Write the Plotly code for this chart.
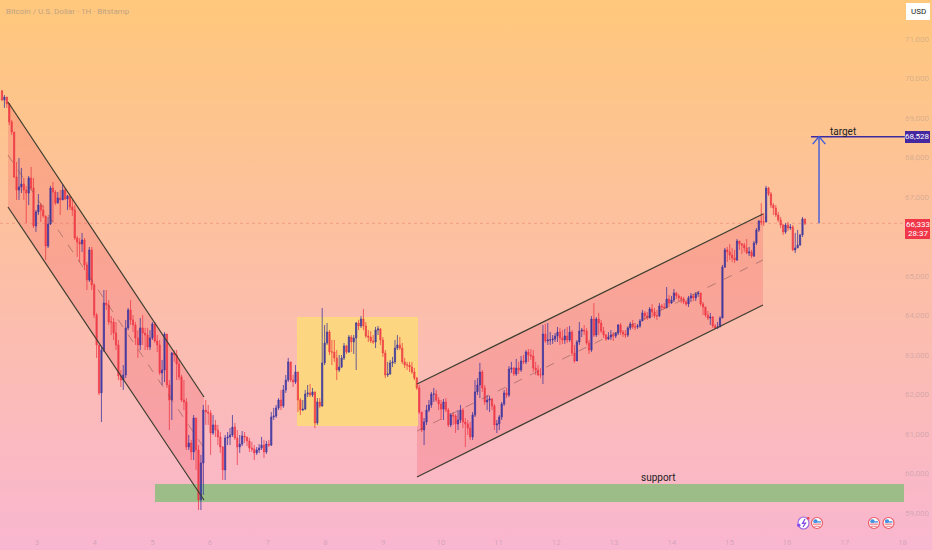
import plotly.graph_objects as go
from urllib.parse import quote

# ---------- values ----------
first_open = 69685
closes = [
69455,69530,69355,68900,68645,67505,67175,67255,67330,67175,
67100,67480,67225,66265,66620,66795,66670,66520,65760,66315,
67225,67125,66845,66975,66925,67175,66950,67025,66745,66670,
65960,65860,65810,65910,65280,64900,65660,64770,64010,63255,
62040,63125,64315,64265,63835,63835,63555,63255,62470,62365,
62495,63685,64140,63885,63760,63430,63255,63685,63555,63505,
63200,63430,63785,63355,63255,62545,62620,63530,62240,61860,
63050,63000,62770,62445,61860,61810,60670,60770,60545,61405,
60595,59330,60265,61605,61555,61530,61025,61230,61100,60925,
60670,60090,60900,60925,60975,61175,60900,60670,60745,60950,
60925,60825,60645,60620,60520,60595,60645,60720,60545,60745,
60720,61430,61455,61660,61860,61710,62115,62365,62825,62365,
62315,62570,61860,61605,61630,62010,62040,61985,62065,61280,
61810,61710,62800,63305,63580,63075,63075,62925,62620,62695,
62925,63230,63075,63455,63330,63430,63810,63735,63910,63735,
63480,63455,63355,63330,63630,63660,63380,63050,62495,62520,
62800,62825,63175,63255,63175,62825,62745,62745,62695,62570,
62415,62165,61555,61100,61305,61605,61735,62010,62010,61860,
61760,61630,61810,61605,61230,61480,61455,61255,61355,61605,
61305,61255,61150,60925,61480,62065,62240,62570,62165,61810,
61860,61885,61710,61230,61255,61430,61760,62040,61985,62645,
62670,62520,62670,62620,62850,62825,63075,63000,62975,62670,
62620,62495,62495,63530,63355,63380,63380,63405,63480,63580,
63430,63380,63480,63380,63580,63050,62850,63330,63605,63630,
63605,63305,63125,63910,63505,63910,63810,63605,63505,63405,
63455,63505,63480,63555,63760,63580,63530,63505,63685,63785,
63710,63710,63735,63860,64065,63990,63935,64165,64090,63990,
63990,64240,64215,64190,64415,64315,64390,64570,64495,64445,
64415,64340,64290,64445,64495,64445,64545,64570,64290,64215,
64010,63935,63960,63735,63685,63710,63935,65225,65660,65610,
65530,65455,65405,65885,65810,65785,65710,65580,65610,65505,
65835,66165,66390,66365,66365,67225,67075,66795,66720,66545,
66420,66290,66115,66290,66215,66240,65660,65710,65785,66040,
66445,66333]
highs = [
69710,69580,69530,69380,68950,68645,67885,67985,67735,67480,
67280,67530,67760,67480,66670,67075,66845,66795,66520,66495,
67280,67380,67175,67125,67175,67330,67225,67050,67025,66925,
66795,66010,65960,66090,65960,65355,65735,65735,64820,64065,
63255,63200,64645,64645,64390,63985,63935,63835,63380,62620,
62745,63885,64190,64390,64010,63835,63630,63935,64010,63685,
63685,63630,63835,63835,63505,63380,62875,63580,63505,62365,
63075,63125,63125,62875,62495,62365,61910,60975,60850,61480,
61405,60720,60470,61735,61860,61735,61605,61480,61355,61230,
61050,60695,60975,61050,61150,61480,61280,61100,60975,61075,
61050,60925,60900,60800,60720,60670,60745,60925,60850,60825,
60850,61555,61660,61735,61910,62115,62240,62495,62925,62825,
62495,62745,62570,61910,61860,62115,62240,62265,62165,62040,
61910,61910,64190,63760,63810,63630,63380,63380,63125,63000,
63000,63305,63255,63505,63505,63505,63835,63885,63985,64165,
63835,63630,63605,63505,63710,63735,63685,63455,63125,62825,
62875,62950,63380,63505,63455,63305,62925,62825,62825,62825,
62670,62445,62240,61555,61405,61735,61860,62065,62165,62115,
61935,61860,61885,61910,61660,61530,61555,61505,61605,61735,
61660,61405,61355,61305,61555,62365,62415,62800,62620,62240,
61985,61960,61910,61760,61355,61480,61810,62115,62165,62720,
62825,62695,62900,62825,62975,63000,63125,63150,63150,63125,
62825,62745,62670,63760,63785,63810,63580,63505,63555,63710,
63685,63630,63660,63710,63735,63630,63255,63380,63835,63685,
63760,63685,63380,63985,64315,63960,64065,63885,63710,63530,
63580,63630,63580,63580,63785,63810,63630,63630,63710,63835,
63885,63810,63785,63910,64140,64115,64090,64215,64290,64190,
64140,64315,64290,64315,64720,64520,64495,64670,64595,64545,
64495,64470,64390,64495,64570,64545,64595,64620,64570,64340,
64215,64115,64065,63985,63785,63835,63985,65280,65710,65735,
65810,65710,65660,65935,65885,65835,65835,65935,65735,65660,
65885,66215,66420,66845,66595,67280,67255,67125,66845,66795,
66620,66495,66315,66340,66365,66315,66290,66090,66165,66065,
66495,66445]
lows = [
69430,69255,69255,68820,68570,67480,66925,66925,67100,66925,
66340,66795,67175,66215,66115,66545,66365,66470,65405,65710,
66290,66365,66795,66845,66545,66925,66925,66670,66670,66520,
65910,65480,65355,65610,65150,64645,64850,64645,63935,62925,
61985,61305,63075,64140,63760,63505,63380,63125,62365,62190,
62115,62415,63630,63760,63580,63255,62925,63125,63255,63125,
63125,63125,63380,63305,63075,62495,62240,62315,62165,61100,
61355,62825,62365,62365,61810,61605,60595,60595,60340,60340,
60090,59075,59075,59455,61230,61230,60470,60975,60925,60720,
60520,59835,59835,60720,60720,60925,60850,60215,60520,60695,
60775,60695,60545,60545,60340,60470,60520,60595,60390,60495,
60670,60695,61355,61405,61605,61605,61660,62040,62315,62315,
62190,62265,61555,61480,61580,61605,61935,61935,61935,61150,
61230,61660,61685,62745,63255,63000,62745,62825,62365,62570,
62670,62875,63025,63050,63075,63025,62620,63630,63685,63630,
63430,63330,63305,63280,63175,63505,63255,62950,62415,62445,
62495,62695,62770,63125,63125,62770,62670,62620,62570,62520,
62365,62115,61505,61050,60720,61230,61555,61660,61810,61810,
61605,61355,61355,61555,61175,61175,61230,61025,61100,61280,
61150,60670,60975,60850,60850,61430,61985,61910,62065,61735,
61605,61555,61605,61100,61025,61100,61355,61710,61910,61935,
62545,62470,62470,62520,62570,62770,62770,62825,62875,62570,
62495,62470,62415,62265,63305,63255,63255,63280,63330,63330,
63255,63280,63280,63305,63330,62975,62800,62875,63255,63455,
63505,63255,63025,63075,63455,63455,63505,63555,63430,63355,
63380,63380,63355,63430,63505,63505,63455,63430,63455,63630,
63660,63630,63660,63685,63860,63885,63885,63935,63960,63935,
63885,63960,64140,64165,64190,64215,64290,64340,64415,64365,
64315,64290,64240,64215,64340,64365,64365,64470,64240,64010,
63960,63885,63760,63685,63660,63660,63710,63935,65205,65355,
65405,65355,65330,65380,65660,65555,65610,65555,65505,65455,
65480,65785,66115,66290,66265,66520,67025,66720,66545,66495,
66365,66215,66035,66065,66140,66165,65635,65580,65710,65760,
65987,66290]
opens = [first_open] + closes[:-1]

price_ticks = [59000,60000,61000,62000,63000,64000,65000,67000,68000,69000,70000,71000]
day_ticks = [3,4,5,6,7,8,9,10,11,12,13,14,15,16,17,18]

current_price = 66333
countdown = "28:37"
target_price = 68528

# channels: day and price pairs
down_days = [2.497, 5.894]
down_top = [69405, 61937]
down_mid = [68063, 60646]
down_bot = [66747, 59329]
up_days = [9.586, 15.582]
up_top = [62266, 66570]
up_mid = [61076, 65405]
up_bot = [59911, 64266]
range_days = [7.506, 9.603]
range_prices = [61203, 63962]
support_days = [5.045, 18.026]
support_prices = [59278, 59734]
target_days = [16.414, 18.04]
arrow_day = 16.553
arrow_wing = 0.11
arrow_drop = 190
first_bar_day = 2.3934
bar_step = 0.04204

X_RANGE = [2.3588, 18.511]
Y_RANGE = [58063, 71987]
W, H = 932, 550
FONT = "Roboto, 'Open Sans', sans-serif"
UP, DOWN = "#2b2a9e", "#ee2f3f"

days = [first_bar_day + i * bar_step for i in range(len(closes))]
fig = go.Figure()

def line(xs, ys, color, width=1.5, dash="solid"):
    fig.add_trace(go.Scatter(x=xs, y=ys, mode="lines", hoverinfo="skip",
                             line=dict(color=color, width=width, dash=dash)))

def band(xs, top, bot, color):
    path = f"M{xs[0]},{top[0]} L{xs[1]},{top[1]} L{xs[1]},{bot[1]} L{xs[0]},{bot[0]} Z"
    fig.add_shape(type="path", path=path, fillcolor=color, line_width=0, layer="below")

def box(xs, ys, color):
    fig.add_shape(type="rect", x0=xs[0], x1=xs[1], y0=ys[0], y1=ys[1],
                  fillcolor=color, line_width=0, layer="below")

band(down_days, down_top, down_bot, "rgba(240,60,80,0.2)")
band(up_days, up_top, up_bot, "rgba(240,60,80,0.2)")
box(range_days, range_prices, "#fdd681")
box(support_days, support_prices, "#9dbd88")
fig.add_shape(type="line", x0=X_RANGE[0], x1=target_days[1], y0=current_price, y1=current_price,
              line=dict(color="rgba(225,80,80,0.3)", width=1, dash="dot"), layer="below")

fig.add_trace(go.Candlestick(
    x=days, open=opens, high=highs, low=lows, close=closes, hoverinfo="skip",
    increasing=dict(line=dict(color=UP, width=0.8), fillcolor=UP),
    decreasing=dict(line=dict(color=DOWN, width=0.8), fillcolor=DOWN),
    whiskerwidth=0, opacity=0.88))

for top in (down_top, down_bot):
    line(down_days, top, "#3d3d30", 1.2)
for top in (up_top, up_bot):
    line(up_days, top, "#3d3d30", 1.2)
line(down_days, down_mid, "rgba(110,70,70,0.6)", 0.8, "dash")
line(up_days, up_mid, "rgba(110,70,70,0.6)", 0.8, "dash")
line(target_days, [target_price, target_price], "#3d2a9e", 1.5)
line([arrow_day, arrow_day], [current_price, target_price], "#3f5bd8", 1.4)
line([arrow_day - arrow_wing, arrow_day, arrow_day + arrow_wing],
     [target_price - arrow_drop, target_price, target_price - arrow_drop], "#3f5bd8", 1.4)

def px(x): return x / W
def py(y): return 1 - y / H

def text(x, y, s, color, size, xanchor="center"):
    fig.add_annotation(x=px(x), y=py(y), xref="paper", yref="paper", text=s, showarrow=False,
                       xanchor=xanchor, yanchor="middle", align="center",
                       font=dict(family=FONT, size=size, color=color))

def paper_rect(x0, y0, x1, y1, color, kind="rect", **kw):
    fig.add_shape(type=kind, xref="paper", yref="paper", x0=px(x0), x1=px(x1), y0=py(y0), y1=py(y1),
                  fillcolor=color, line=kw.get("line", dict(width=0)), layer="above")

text(843, 131, "target", "#222", 10)
text(658, 477, "support", "#222", 10)
text(4, 11, "Bitcoin / U.S. Dollar · 1H · Bitstamp", "rgba(120,120,135,0.5)", 8, "left")

paper_rect(906, 3, 930, 20, "#ffffff")
text(918, 11.5, "USD", "#222", 8)
paper_rect(905, 131, 930, 143, "#4527a0")
text(917.5, 137, f"{target_price:,}", "#ffffff", 8)
paper_rect(905, 219, 930, 239, "#f0374a")
text(917.5, 224.5, f"{current_price:,}", "#ffffff", 8)
text(917.5, 233.5, countdown, "#ffffff", 8)

# event markers along the bottom
def flag(cx, cy=523):
    r = 5.5
    paper_rect(cx - r, cy - r, cx + r, cy + r, "#ffffff", "circle", line=dict(color="#ee5a66", width=1.2))
    paper_rect(cx - 3.6, cy - 3.8, cx + 0.6, cy, "#3f8fe0", "circle")
    paper_rect(cx - 3.6, cy - 1.8, cx + 4, cy - 0.4, "#4a94e0")
    paper_rect(cx - 4, cy + 0.6, cx + 4, cy + 1.6, "#ee5a66")
    paper_rect(cx - 3, cy + 2.8, cx + 3, cy + 3.6, "#ee5a66")
for c in (817, 874, 888.5):
    flag(c)
paper_rect(798, 517, 809, 529, "#ffffff", "circle", line=dict(color="#a06be0", width=1.2))
fig.add_shape(type="path", xref="paper", yref="paper", layer="above", line=dict(color="#7c3fe0", width=1.2),
              path=f"M{px(805)},{py(519)} L{px(802.5)},{py(523.5)} L{px(805.5)},{py(523)} L{px(803)},{py(527)}")
paper_rect(797, 523.5, 800.5, 527, "#8a4fe8", "circle")
paper_rect(807, 517, 809.5, 519.5, "#ee3b4b", "circle")

grad = ("<svg xmlns='http://www.w3.org/2000/svg' width='10' height='550' preserveAspectRatio='none'>"
        "<defs><linearGradient id='g' x1='0' y1='0' x2='0' y2='1'>"
        "<stop offset='0' stop-color='#ffc87c'/><stop offset='1' stop-color='#f9b6d0'/>"
        "</linearGradient></defs><rect width='10' height='550' fill='url(#g)'/></svg>")
fig.add_layout_image(source="data:image/svg+xml," + quote(grad), xref="paper", yref="paper",
                     x=0, y=1, sizex=1, sizey=1, sizing="stretch", layer="below",
                     xanchor="left", yanchor="top")

tick_font = dict(family=FONT, size=8, color="rgba(120,120,135,0.3)")
fig.update_layout(
    width=W, height=H, margin=dict(l=0, r=0, t=0, b=0), showlegend=False,
    paper_bgcolor="#fbbfa8", plot_bgcolor="rgba(0,0,0,0)", dragmode=False,
    xaxis=dict(range=X_RANGE, tickmode="array", tickvals=day_ticks, ticktext=[str(d) for d in day_ticks],
               ticklabelposition="inside", showgrid=False, zeroline=False, showline=False,
               ticks="", tickfont=tick_font, rangeslider=dict(visible=False), fixedrange=True),
    yaxis=dict(range=Y_RANGE, side="right", tickmode="array", tickvals=price_ticks,
               ticktext=[f"{p:,}" for p in price_ticks], ticklabelposition="inside",
               showgrid=False, zeroline=False, showline=False, ticks="", tickfont=tick_font,
               fixedrange=True),
)
fig.write_html("out.html", config=dict(displayModeBar=False),
               post_script="document.body.style.margin='0';")
